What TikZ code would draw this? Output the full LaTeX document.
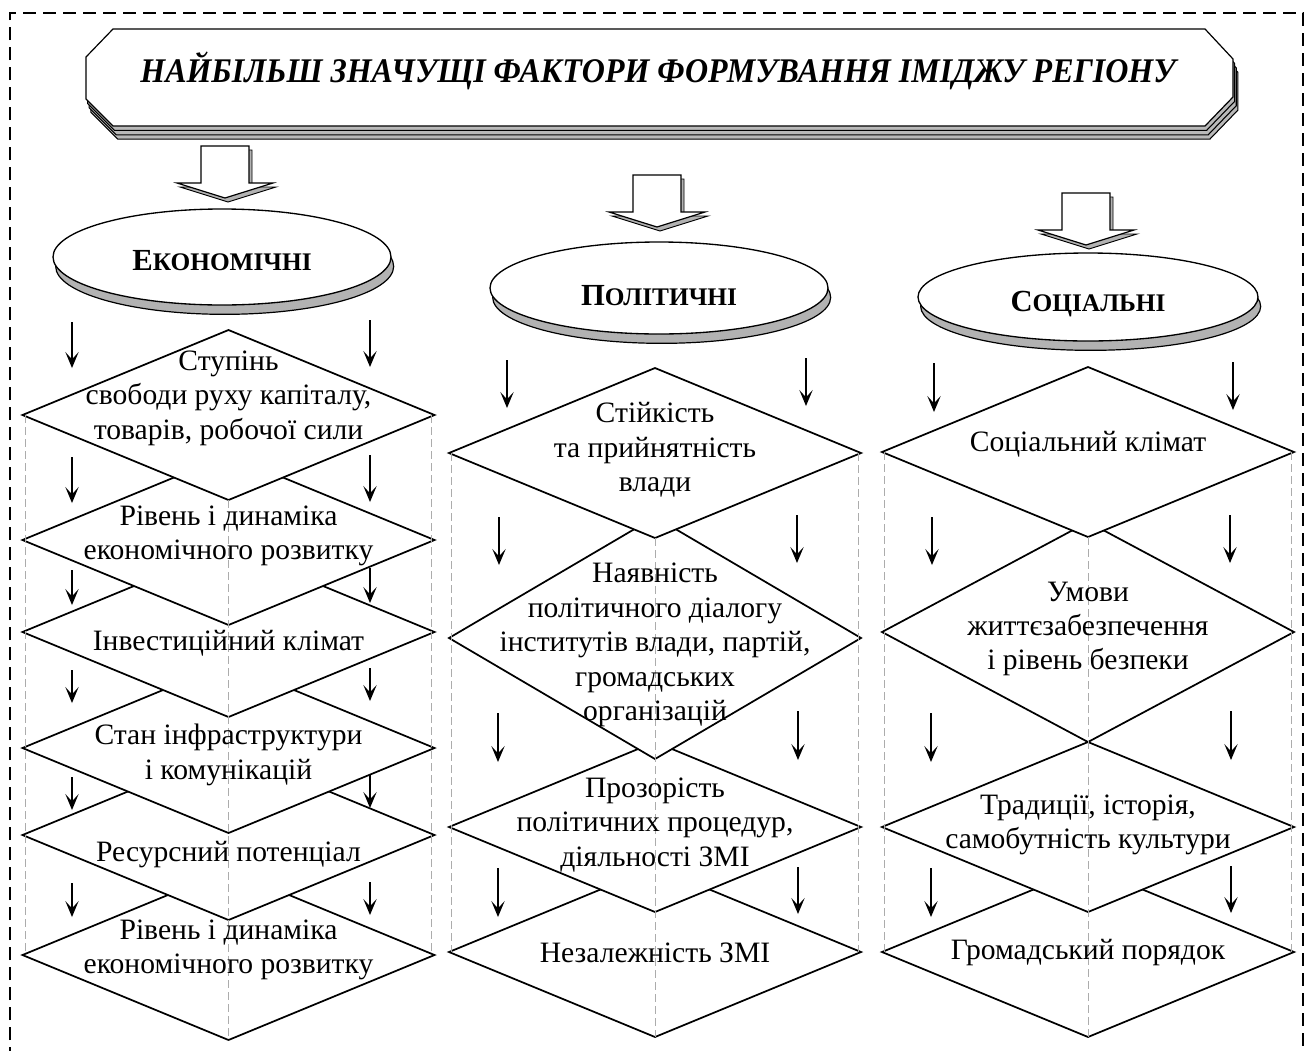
\documentclass[tikz,border=0pt]{standalone}
\usepackage{fontspec}
\setmainfont{Liberation Serif}
\usetikzlibrary{shapes.geometric,arrows.meta,shadows}

\begin{document}
\begin{tikzpicture}[x=0.75pt,y=-0.75pt,
  txt/.style={align=center,font=\fontsize{22.2}{25.8}\selectfont,inner sep=0pt},
  dia/.style={diamond,draw,line width=1.3pt,fill=white,inner sep=0pt,outer sep=0pt,
    minimum width=309pt,minimum height=127.5pt},
  guide/.style={draw=gray!65,line width=0.6pt,dash pattern=on 6pt off 3pt},
  arr/.style={-{Stealth[length=12pt,width=10pt,inset=5.5pt]},line width=1.1pt},
  frame/.style={line width=1.1pt,dash pattern=on 10pt off 5pt},
  oval/.style={ellipse,draw,line width=1pt,fill=white,inner sep=0pt,
    general shadow={shadow xshift=2pt,shadow yshift=-7pt,fill=gray!60,draw=black,line width=0.9pt}},
  ovaltxt/.style={inner sep=0pt,font=\bfseries},
  plaque/.style={insert path={(113,29) -- (1205,29) -- (1233,59) -- (1233,97) -- (1205,126)
    -- (113,126) -- (86,99) -- (86,57) -- cycle}},
  blockarrow/.style={insert path={(-24,0) -- (24,0) -- (24,37) -- (48,37) -- (0,52)
    -- (-48,37) -- (-24,37) -- cycle}},
]
\useasboundingbox (0,0) rectangle (1306,1050);

% outer dashed frame
\draw[frame] (10,1060) -- (10,13) -- (1303,13) -- (1303,1060);

% stacked title plaque
\foreach \k in {3,2,1}{
  \begin{scope}[shift={(1.6*\k,4.4*\k)}]
    \draw[fill=gray!55,line width=0.8pt,plaque];
  \end{scope}
}
\draw[fill=white,line width=0.9pt,plaque];
\node[font=\fontsize{24}{28}\selectfont\bfseries\itshape,inner sep=0pt,yscale=1.08,transform shape]
  (title) at (658,71) {НАЙБІЛЬШ ЗНАЧУЩІ ФАКТОРИ ФОРМУВАННЯ ІМІДЖУ РЕГІОНУ};

% hollow block arrows with shadow
\foreach \cx/\top in {225/146, 657/175, 1086/193}{
  \begin{scope}[shift={(\cx,\top)}]
    \draw[fill=gray!60,line width=0.7pt,shift={(3,4)},blockarrow];
    \draw[fill=white,line width=0.9pt,blockarrow];
  \end{scope}
}

% group ovals
\node[oval,minimum width=253.5pt,minimum height=72pt] (econ) at (222,257) {};
\node[oval,minimum width=253.5pt,minimum height=69pt] (pol) at (659,288) {};
\node[oval,minimum width=255pt,minimum height=66pt] (soc) at (1088,297) {};
\node[ovaltxt] (econt) at (222,261) {{\fontsize{23}{26}\selectfont Е}{\fontsize{19}{22}\selectfont КОНОМІЧНІ}};
\node[ovaltxt] (polt) at (659,296) {{\fontsize{23}{26}\selectfont П}{\fontsize{19}{22}\selectfont ОЛІТИЧНІ}};
\node[ovaltxt] (soct) at (1088,304) {{\fontsize{23}{26}\selectfont С}{\fontsize{19}{22}\selectfont ОЦІАЛЬНІ}};

% economic column (lower diamonds first, upper ones overlap them)
\node[dia] (e6) at (228.5,955) {};
\node[dia] (e5) at (228.5,835) {};
\node[dia] (e4) at (228.5,748) {};
\node[dia] (e3) at (228.5,632) {};
\node[dia] (e2) at (228.5,540) {};
\node[dia] (e1) at (228.5,415) {};

% political column
\node[dia] (p4) at (655,952) {};
\node[dia] (p3) at (655,827) {};
\node[dia,minimum height=181.5pt] (p2) at (655,638) {};
\node[dia] (p1) at (655,453) {};

% social column
\node[dia] (s4) at (1088,952) {};
\node[dia] (s3) at (1088,827) {};
\node[dia,minimum height=165pt] (s2) at (1088,632) {};
\node[dia] (s1) at (1088,452) {};

% guide lines
\foreach \a/\b in {e1/e6,p1/p4,s1/s4}{
  \draw[guide] ([xshift=2pt]\a.west) -- ([xshift=2pt]\b.west);
  \draw[guide] ([xshift=-2pt]\a.east) -- ([xshift=-2pt]\b.east);
  \draw[guide] (\a.south) -- (\b.south);
}

% labels
\node[txt] (te1) at (228.5,398) {Ступінь\\свободи руху капіталу,\\товарів, робочої сили};
\node[txt] (te2) at (228.5,536) {Рівень і динаміка\\економічного розвитку};
\node[txt] (te3) at (228.5,643) {Інвестиційний клімат};
\node[txt] (te4) at (228.5,755) {Стан інфраструктури\\і комунікацій};
\node[txt] (te5) at (228.5,855) {Ресурсний потенціал};
\node[txt] (te6) at (228.5,950) {Рівень і динаміка\\економічного розвитку};

\node[txt] (tp1) at (655,450) {Стійкість\\та прийнятність\\влади};
\node[txt] (tp2) at (655,645) {Наявність\\політичного діалогу\\інститутів влади, партій,\\громадських\\організацій};
\node[txt] (tp3) at (655,825) {Прозорість\\політичних процедур,\\діяльності ЗМІ};
\node[txt] (tp4) at (655,953) {Незалежність ЗМІ};

\node[txt] (ts1) at (1088,444) {Соціальний клімат};
\node[txt] (ts2) at (1088,629) {Умови\\життєзабезпечення\\і рівень безпеки};
\node[txt] (ts3) at (1088,825) {Традиції, історія,\\самобутність культури};
\node[txt] (ts4) at (1088,953) {Громадський порядок};

% small down arrows
\foreach \n/\x/\ya/\yb in {
  ea1/72/322/368, eb1/370/320/367,
  ea2/72/457/503, eb2/370/455/502,
  ea3/72/570/605, eb3/370/568/603,
  ea4/72/670/703, eb4/370/668/701,
  ea5/72/777/810, eb5/370/775/808,
  ea6/72/883/917, eb6/370/882/915,
  pa1/507/360/408, pb1/806/358/406,
  pa2/499/517/565, pb2/797/515/563,
  pa3/498/713/762, pb3/798/711/760,
  pa4/498/868/917, pb4/798/867/914,
  sa1/934/363/412, sb1/1233/362/410,
  sa2/932/517/565, sb2/1230/515/563,
  sa3/931/713/762, sb3/1231/711/760,
  sa4/931/868/917, sb4/1231/866/913}{
  \coordinate (\n-from) at (\x,\ya);
  \coordinate (\n-to) at (\x,\yb);
  \draw[arr] (\n-from) -- (\n-to);
}
\end{tikzpicture}
\end{document}
